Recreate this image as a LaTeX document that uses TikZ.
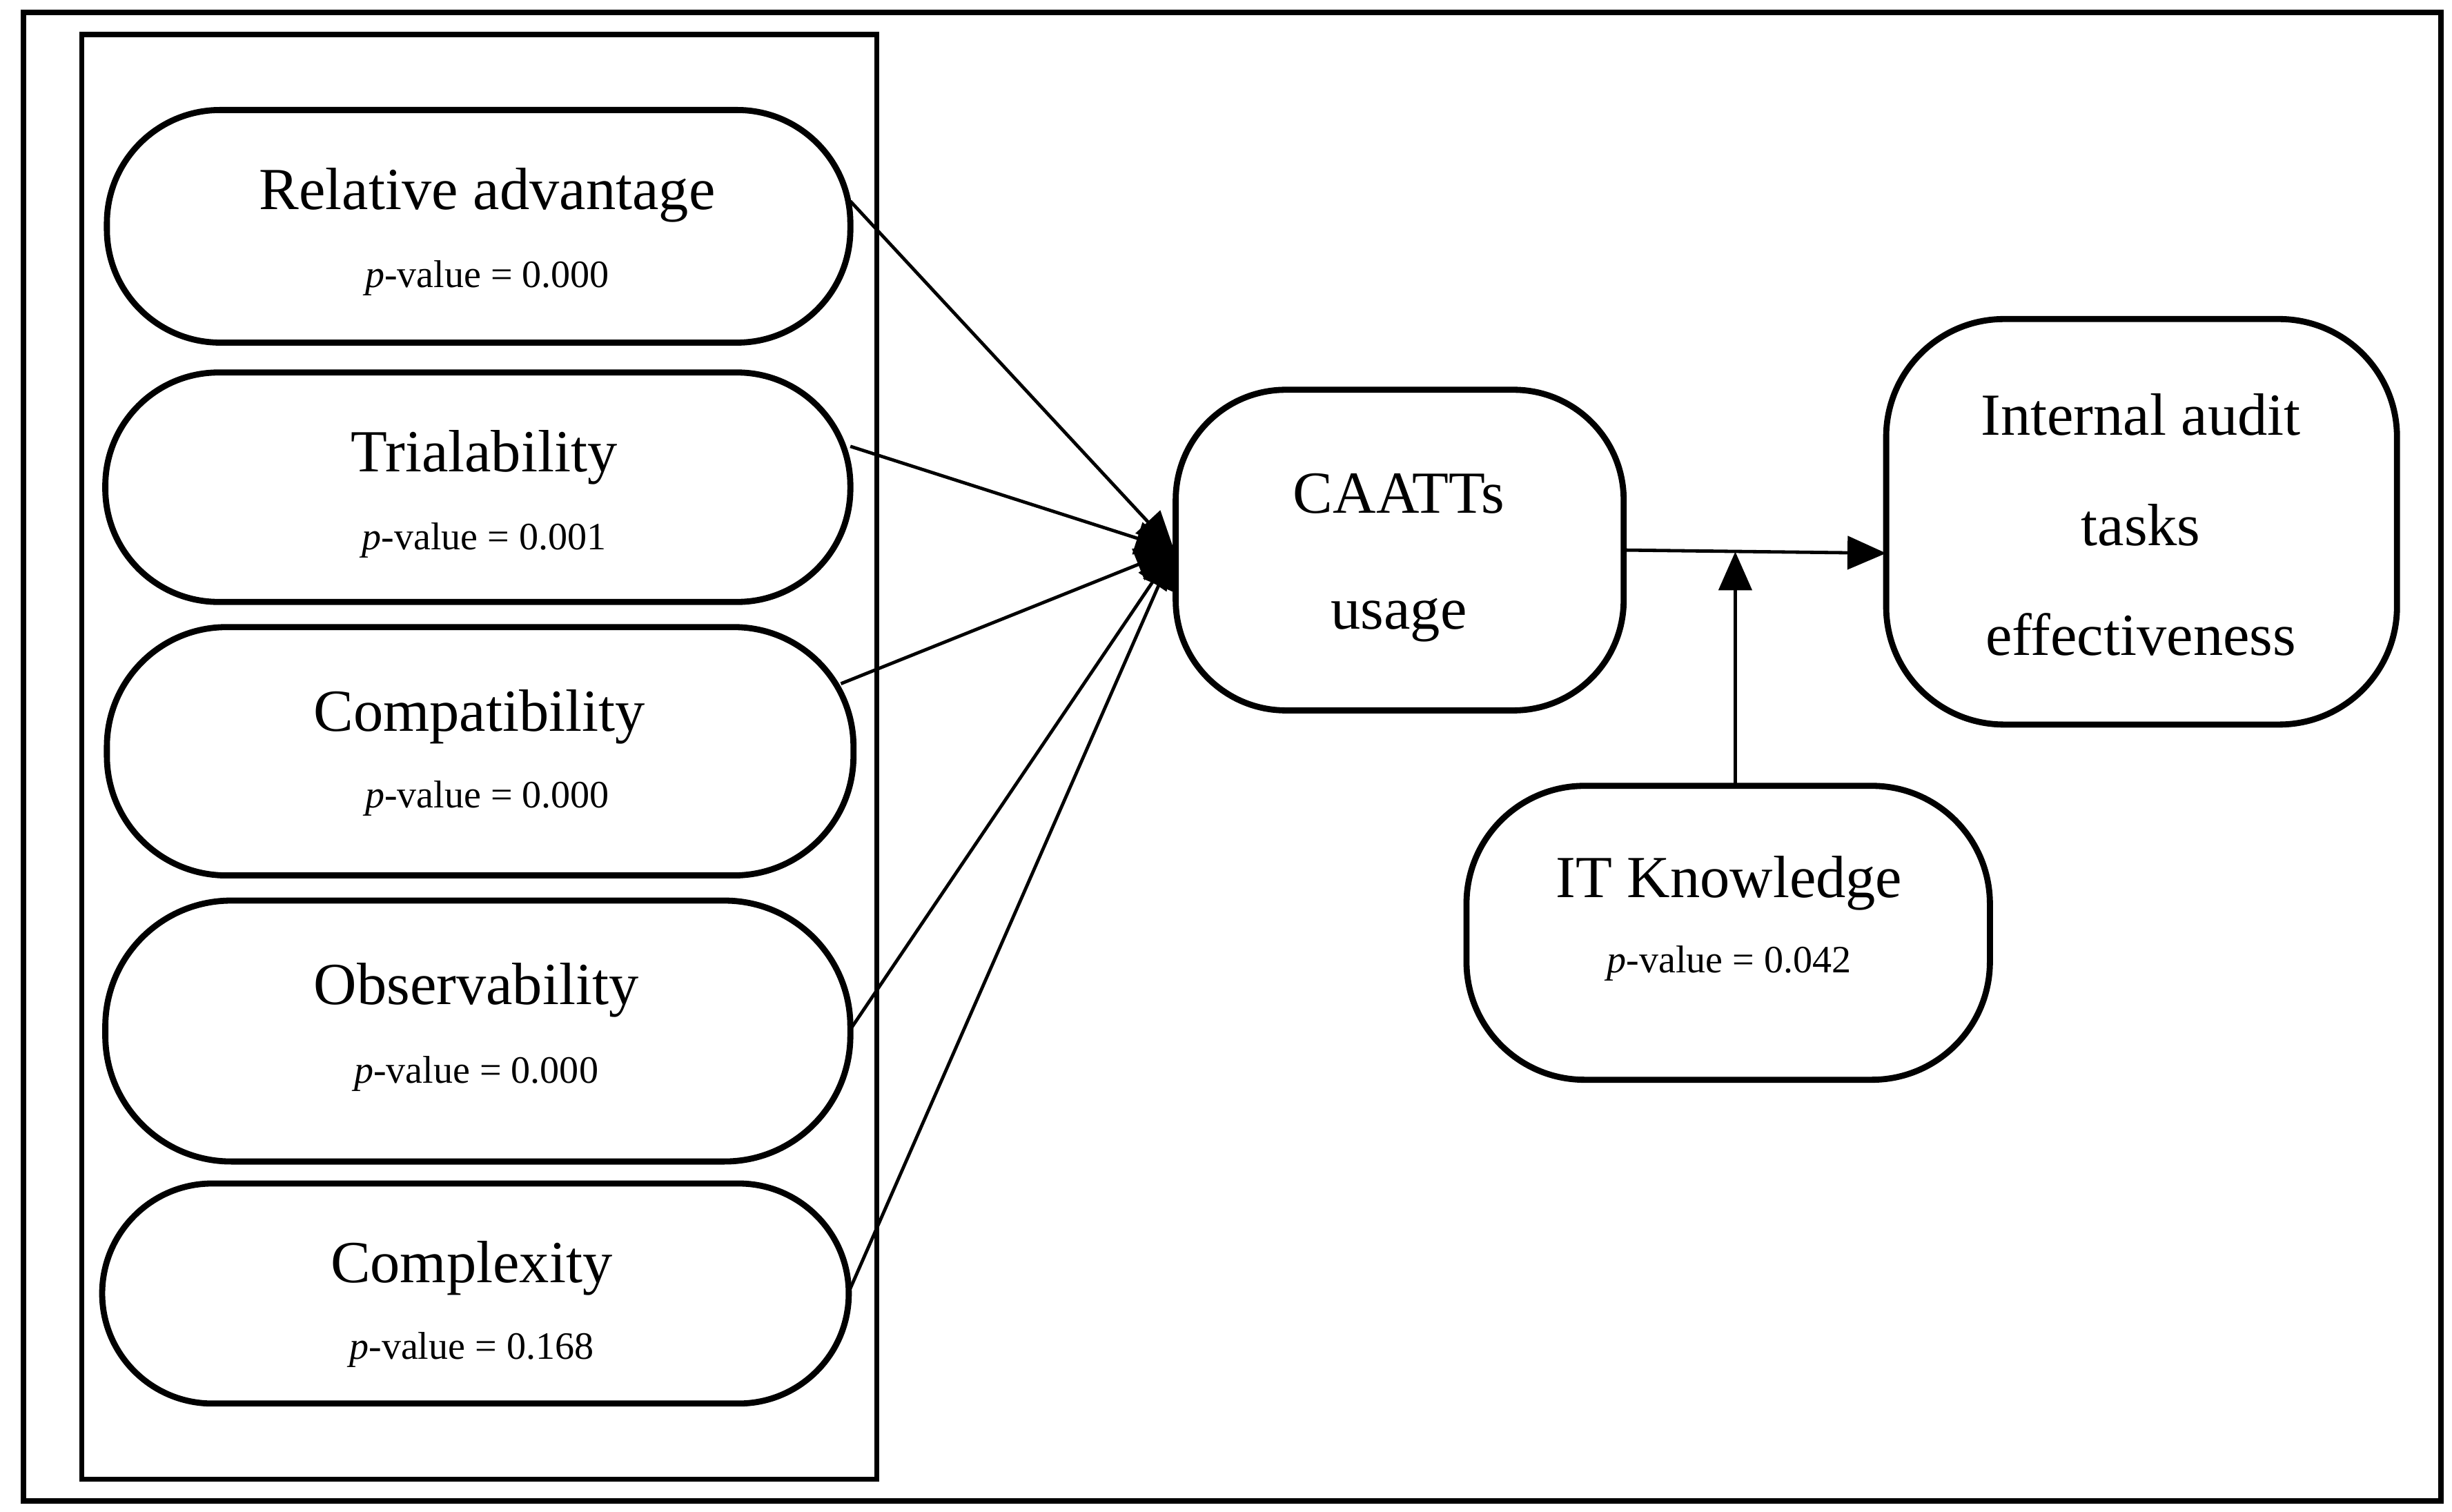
\documentclass[tikz,border=0pt]{standalone}
\usepackage{fontspec}
\setmainfont{Liberation Serif}
\usetikzlibrary{arrows.meta}
\begin{document}
\begin{tikzpicture}[x=0.01cm,y=-0.01cm,
 stad/.style={draw,line width=1.1pt,rounded corners=#1},
 ttl/.style={font=\fontsize{10.8}{13}\selectfont},
 pv/.style={font=\fontsize{7}{9}\selectfont},
 arr/.style={line width=0.6pt,-{Triangle[length=7pt,width=6pt]}}]
\useasboundingbox (0,0) rectangle (1560,962);
\draw[line width=1pt] (15,8) rectangle (1553,955);
\draw[line width=0.9pt] (52,22) rectangle (558,941);
% left nodes
\draw[stad=0.72cm] (68,70) rectangle (541,218);
\node[ttl] (ra) at (310,124) {Relative advantage};
\node[pv] at (310,177) {\textit{p}-value = 0.000};
\draw[stad=0.72cm] (67,237) rectangle (541,383);
\node[ttl] (tr) at (308,291) {Trialability};
\node[pv] at (308,344) {\textit{p}-value = 0.001};
\draw[stad=0.76cm] (68,399) rectangle (543,557);
\node[ttl] (co) at (305,456) {Compatibility};
\node[pv] at (310,508) {\textit{p}-value = 0.000};
\draw[stad=0.8cm] (67,573) rectangle (541,739);
\node[ttl] (ob) at (303,630) {Observability};
\node[pv] at (303,683) {\textit{p}-value = 0.000};
\draw[stad=0.7cm] (65,753) rectangle (540,893);
\node[ttl] (cx) at (300,807) {Complexity};
\node[pv] at (300,859) {\textit{p}-value = 0.168};
% CAATTs
\draw[stad=0.7cm] (748,248) rectangle (1033,452);
\node[ttl,align=center] (ca) at (890,355) {CAATTs\\[1.6ex]usage};
\draw[stad=0.75cm] (1200,203) rectangle (1525,461);
\node[ttl,align=center] (ia) at (1362,334) {Internal audit\\[1.4ex]tasks\\[1.4ex]effectiveness};
\draw[stad=0.75cm] (933,500) rectangle (1266,687);
\node[ttl] (it) at (1100,562) {IT Knowledge};
\node[pv] at (1100,613) {\textit{p}-value = 0.042};
% connectors
\coordinate (t) at (747,350);
\coordinate (s1) at (541,128);
\coordinate (s2) at (541,284);
\coordinate (s3) at (535,435);
\coordinate (s4) at (541,655);
\coordinate (s5) at (540,822);
\foreach \s in {s1,s2,s3,s4,s5} \draw[arr] (\s) -- (t);
\coordinate (c1) at (1034,350);
\coordinate (c2) at (1200,352);
\draw[arr] (c1) -- (c2);
\coordinate (k1) at (1104,500);
\coordinate (k2) at (1104,351);
\draw[arr] (k1) -- (k2);
\end{tikzpicture}
\end{document}
